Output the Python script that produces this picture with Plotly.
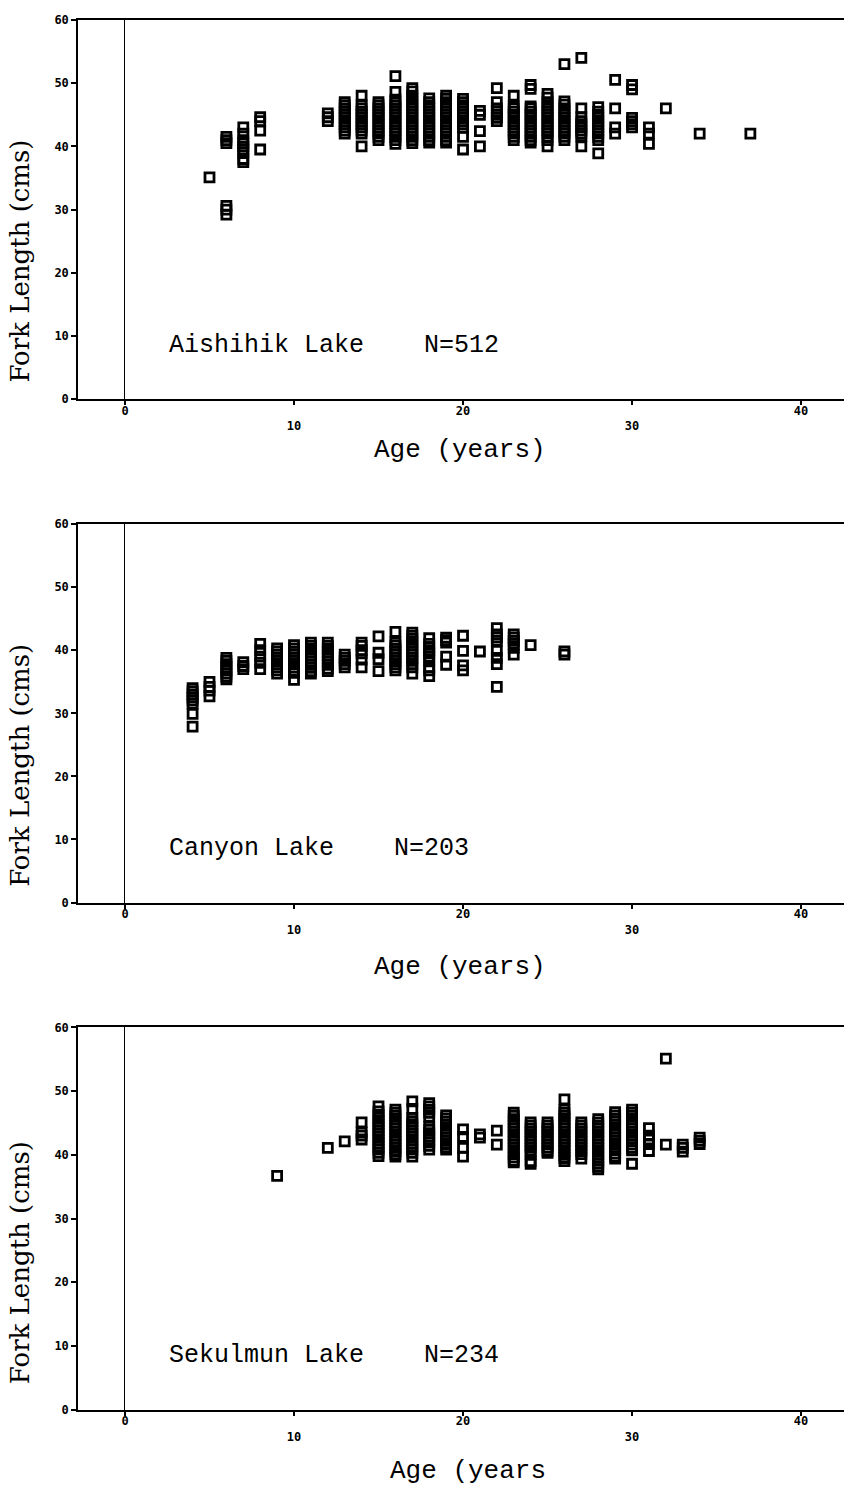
import plotly.graph_objects as go

W, H = 844, 1495

# ---------------- data (age in years, fork length in cm) ----------------
aishihik_age = [5, 6, 7, 8, 12, 13, 14, 15, 16, 17, 18, 19, 20, 21, 22, 23, 24, 25,
                26, 27, 28, 29, 30, 31, 32, 34, 37]
aishihik_fl = [
    [35.1],
    [41.5, 41.0, 40.5, 30.6, 30.0, 29.2],
    [43.0, 42.0, 41.0, 40.5, 40.0, 39.5, 39.0, 38.0, 37.5],
    [44.6, 44.0, 42.5, 39.5],
    [45.2, 44.6, 44.0],
    [47.0, 46.5, 46.0, 45.5, 45.0, 44.5, 44.0, 43.5, 43.0, 42.5, 42.0],
    [48.0, 46.5, 46.0, 45.5, 45.0, 44.5, 44.0, 43.5, 43.0, 42.5, 42.0, 40.0],
    [47.0, 46.5, 46.0, 45.5, 45.0, 44.5, 44.0, 43.5, 43.0, 42.5, 42.0, 41.5, 41.0],
    [51.1, 48.6, 47.4, 47.0, 46.5, 46.0, 45.5, 45.0, 44.5, 44.0, 43.5, 43.0, 42.5, 42.0, 41.5, 41.0, 40.4],
    [49.2, 48.7, 48.0, 47.5, 47.0, 46.5, 46.0, 45.5, 45.0, 44.5, 44.0, 43.5, 43.0, 42.5, 42.0, 41.5, 41.0, 40.5],
    [47.6, 47.0, 46.5, 46.0, 45.5, 45.0, 44.5, 44.0, 43.5, 43.0, 42.5, 42.0, 41.5, 41.0, 40.6],
    [48.0, 47.5, 47.0, 46.5, 46.0, 45.5, 45.0, 44.5, 44.0, 43.5, 43.0, 42.5, 42.0, 41.5, 41.0, 40.6],
    [47.5, 47.0, 46.5, 46.0, 45.5, 45.0, 44.5, 44.0, 43.5, 43.0, 41.5, 39.5],
    [45.6, 45.0, 42.4, 40.0],
    [49.2, 47.0, 46.0, 45.5, 45.0, 44.5, 44.0],
    [48.0, 46.3, 46.0, 45.5, 45.0, 44.5, 44.0, 43.5, 43.0, 42.5, 42.0, 41.5, 41.0],
    [49.7, 49.1, 46.3, 46.0, 45.5, 45.0, 44.5, 44.0, 43.5, 43.0, 42.5, 42.0, 41.5, 41.0, 40.6],
    [48.3, 47.7, 47.0, 46.5, 46.0, 45.5, 45.0, 44.5, 44.0, 43.5, 43.0, 42.5, 42.0, 41.5, 41.0, 40.0],
    [53.0, 47.1, 46.6, 46.0, 45.5, 45.0, 44.5, 44.0, 43.5, 43.0, 42.5, 42.0, 41.5, 41.0],
    [54.0, 46.0, 44.6, 44.0, 43.5, 43.0, 42.5, 42.0, 41.6, 40.0],
    [46.2, 45.5, 45.0, 44.5, 44.0, 43.5, 43.0, 42.5, 42.0, 41.5, 41.0, 38.9],
    [50.5, 46.0, 43.0, 42.0],
    [49.7, 49.0, 44.5, 44.0, 43.5, 43.0],
    [43.0, 42.0, 40.4],
    [46.0],
    [42.0],
    [42.0],
]

canyon_age = [4, 5, 6, 7, 8, 9, 10, 11, 12, 13, 14, 15, 16, 17, 18, 19, 20, 21, 22, 23, 24, 26]
canyon_fl = [
    [34.0, 33.5, 33.0, 32.5, 32.0, 31.5, 29.9, 27.9],
    [35.0, 34.2, 33.6, 32.7],
    [38.8, 38.3, 37.8, 37.3, 36.8, 36.3, 35.8, 35.4],
    [38.1, 37.5, 37.0],
    [41.0, 40.0, 39.0, 38.0, 37.0],
    [40.3, 39.8, 39.3, 38.8, 38.3, 37.8, 37.3, 36.8, 36.3],
    [40.8, 40.3, 39.8, 39.3, 38.8, 38.3, 37.8, 37.3, 36.8, 36.4, 35.3],
    [41.2, 40.7, 40.2, 39.7, 39.2, 38.7, 38.2, 37.7, 37.2, 36.7, 36.3],
    [41.2, 40.7, 40.2, 39.7, 39.2, 38.7, 38.2, 37.7, 37.1, 36.7],
    [39.3, 38.8, 38.3, 37.8, 37.3],
    [41.2, 40.7, 40.0, 39.5, 38.5, 37.3],
    [42.2, 39.6, 38.6, 36.7],
    [42.9, 41.3, 40.8, 40.3, 39.8, 39.3, 38.8, 38.3, 37.8, 37.3, 36.8],
    [42.8, 42.3, 41.8, 41.3, 40.8, 40.3, 39.8, 39.3, 38.8, 38.3, 37.8, 37.3, 36.3],
    [41.9, 41.0, 40.5, 40.0, 39.5, 39.0, 38.4, 37.3, 36.8, 35.9],
    [42.0, 41.6, 41.2, 39.0, 37.7],
    [42.3, 39.9, 37.6, 36.8],
    [39.8],
    [43.5, 42.5, 42.0, 41.5, 39.9, 38.8, 37.8, 34.2],
    [42.5, 42.0, 41.5, 41.0, 40.4, 39.3],
    [40.8],
    [39.8, 39.3],
]

sekulmun_age = [9, 12, 13, 14, 15, 16, 17, 18, 19, 20, 21, 22, 23, 24, 25, 26, 27, 28,
                29, 30, 31, 32, 33, 34]
sekulmun_fl = [
    [36.7],
    [41.1],
    [42.1],
    [45.1, 43.5, 43.0, 42.4],
    [47.6, 46.8, 46.3, 45.8, 45.3, 44.8, 44.3, 43.8, 43.3, 42.8, 42.3, 41.8, 41.3, 40.8, 40.3, 39.8],
    [47.1, 46.6, 46.1, 45.6, 45.1, 44.6, 44.1, 43.6, 43.1, 42.6, 42.1, 41.6, 41.1, 40.6, 40.1, 39.7],
    [48.4, 47.2, 45.8, 45.3, 44.8, 44.3, 43.8, 43.3, 42.8, 42.3, 41.8, 41.3, 40.8, 40.3, 39.7],
    [48.1, 47.6, 47.1, 46.6, 46.0, 44.4, 43.9, 43.4, 42.9, 42.4, 41.9, 41.4, 40.8],
    [46.2, 45.7, 45.2, 44.7, 44.2, 43.7, 43.2, 42.7, 42.2, 41.7, 41.2, 40.8],
    [44.0, 42.8, 41.1, 39.7],
    [43.2, 42.7],
    [43.8, 41.6],
    [46.6, 46.1, 45.6, 45.1, 44.6, 44.1, 43.6, 43.1, 42.6, 42.1, 41.6, 41.1, 40.6, 40.1, 39.6, 39.1, 38.8],
    [45.1, 44.6, 44.1, 43.6, 43.1, 42.6, 42.1, 41.6, 41.1, 40.6, 40.1, 39.0, 38.6],
    [45.1, 44.6, 44.1, 43.6, 43.1, 42.6, 42.1, 41.6, 41.1, 40.6, 40.3],
    [48.7, 47.1, 46.6, 46.1, 45.6, 45.1, 44.6, 44.1, 43.6, 43.1, 42.6, 42.1, 41.6, 41.1, 40.6, 40.0, 39.5, 39.0],
    [45.1, 44.6, 44.1, 43.6, 43.1, 42.6, 42.1, 41.6, 41.1, 40.6, 40.1, 39.4],
    [45.6, 45.1, 44.6, 44.1, 43.6, 43.1, 42.6, 42.1, 41.6, 41.1, 40.6, 40.1, 39.6, 39.1, 38.6, 38.1, 37.7],
    [46.7, 46.2, 45.7, 45.2, 44.7, 44.2, 43.7, 43.2, 42.7, 42.2, 41.7, 41.2, 40.7, 40.2, 39.7, 39.4],
    [47.1, 46.6, 46.1, 45.6, 45.1, 44.6, 44.1, 43.6, 43.1, 42.6, 42.1, 41.6, 41.1, 40.7, 38.6],
    [44.2, 43.0, 42.4, 41.7, 40.6],
    [55.1, 41.6],
    [41.6, 41.1, 40.5],
    [42.7, 42.2, 41.7],
]

lake_labels = ["Aishihik Lake\u00a0\u00a0\u00a0\u00a0N=512",
               "Canyon Lake\u00a0\u00a0\u00a0\u00a0N=203",
               "Sekulmun Lake\u00a0\u00a0\u00a0\u00a0N=234"]
x_titles = ["Age (years)", "Age (years)", "Age (years"]
y_title = "Fork Length (cms)"

x_tickvals = [0, 10, 20, 30, 40]
x_ticktext = ["0", "<br>10", "20", "<br>30", "40"]
y_tickvals = [0, 10, 20, 30, 40, 50, 60]
y_ticktext = ["0", "10", "20", "30", "40", "50", "60"]

# ---------------- layout geometry (pixels) ----------------
panel_px = [(13, 396), (522, 904), (1030, 1416)]   # top, bottom of each plot area
xtitle_px = [(460, 447), (460, 969), (468, 1478)]
ytitle_px = [257, 766, 1268]
left_px = 78


def py(v):
    return 1 - v / H


def flatten(ages, fls):
    xs, ys = [], []
    for a, vals in zip(ages, fls):
        for v in vals:
            xs.append(a)
            ys.append(v)
    return xs, ys


fig = go.Figure()
tickfont = dict(family="DejaVu Sans Mono", size=12, color="black", weight="bold")
series = [(aishihik_age, aishihik_fl), (canyon_age, canyon_fl), (sekulmun_age, sekulmun_fl)]
annotations = []
for i, (ages, fls) in enumerate(series):
    xs, ys = flatten(ages, fls)
    sfx = "" if i == 0 else str(i + 1)
    fig.add_trace(go.Scatter(
        x=xs, y=ys, mode="markers",
        marker=dict(symbol="square-open", size=9, color="black", line=dict(width=2.8, color="black")),
        xaxis="x" + sfx, yaxis="y" + sfx, showlegend=False, hoverinfo="x+y"))
    top, bot = panel_px[i]
    fig.layout["xaxis" + sfx] = dict(
        domain=[left_px / W, 1], range=[-2.78, 42.54], anchor="y" + sfx,
        showline=True, linecolor="black", linewidth=2, mirror=True,
        ticks="outside", ticklen=4, tickwidth=1.5, tickcolor="black",
        tickvals=x_tickvals, ticktext=x_ticktext, tickfont=tickfont,
        ticklabelstandoff=-5,
        zeroline=True, zerolinecolor="black", zerolinewidth=1,
        showgrid=False, fixedrange=True)
    fig.layout["yaxis" + sfx] = dict(
        domain=[py(bot), py(top)], range=[0, 60], anchor="x" + sfx,
        showline=True, linecolor="black", linewidth=1.5, mirror=False,
        ticks="outside", ticklen=5, tickwidth=1.5, tickcolor="black",
        tickvals=y_tickvals, ticktext=y_ticktext, tickfont=tickfont,
        zeroline=False, showgrid=False, fixedrange=True)
    annotations.append(dict(
        text=lake_labels[i], xref="x" + sfx, yref="y" + sfx, x=2.5, y=8.5,
        xanchor="left", yanchor="middle", showarrow=False,
        font=dict(family="Liberation Mono", size=25, color="black")))
    annotations.append(dict(
        text=x_titles[i], xref="paper", yref="paper",
        x=xtitle_px[i][0] / W, y=py(xtitle_px[i][1]),
        xanchor="center", yanchor="middle", showarrow=False,
        font=dict(family="Liberation Mono", size=26, color="black")))
    annotations.append(dict(
        text=y_title, xref="paper", yref="paper", x=20 / W, y=py(ytitle_px[i]),
        xanchor="center", yanchor="middle", showarrow=False, textangle=-90,
        font=dict(family="DejaVu Serif", size=26, color="black")))

fig.update_layout(
    width=W, height=H, margin=dict(l=0, r=0, t=0, b=0),
    paper_bgcolor="white", plot_bgcolor="white",
    annotations=annotations, showlegend=False)

fig.write_html("out.html", config={"displayModeBar": False},
               post_script="document.body.style.margin='0';")
